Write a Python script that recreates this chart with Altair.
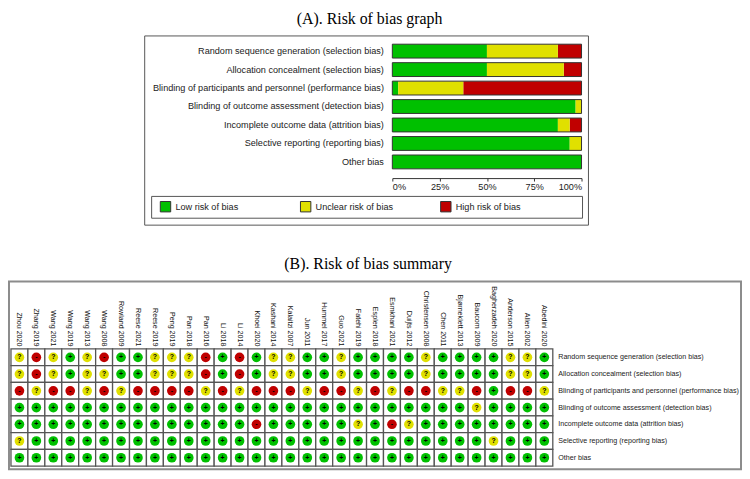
import altair as alt
import pandas as pd

studies = ["Zhou 2020", "Zhang 2019", "Wang 2021", "Wang 2019", "Wang 2013", "Wang 2008",
           "Rowland 2009", "Reese 2021", "Reese 2019", "Peng 2019", "Pan 2018", "Pan 2016",
           "Li 2018", "Li 2014", "Khoei 2020", "Kashani 2014", "Kalaitzi 2007", "Jun 2011",
           "Hummel 2017", "Guo 2021", "Fatehi 2019", "Esplen 2018", "Esmkhani 2021",
           "Duijts 2012", "Christensen 2008", "Chen 2011", "Bjørneklett 2013", "Baucom 2009",
           "Bagherzadeh 2020", "Anderson 2015", "Allen 2002", "Abedini 2020"]

domains = ["Random sequence generation (selection bias)",
           "Allocation concealment (selection bias)",
           "Blinding of participants and personnel (performance bias)",
           "Blinding of outcome assessment (detection bias)",
           "Incomplete outcome data (attrition bias)",
           "Selective reporting (reporting bias)",
           "Other bias"]

# judgements per domain, one entry per study (same order as `studies`)
random_sequence = ["?", "-", "?", "+", "?", "-", "+", "+", "?", "?", "?", "-", "+", "-", "+", "?",
                   "?", "+", "+", "?", "+", "+", "+", "+", "?", "+", "+", "+", "+", "?", "?", "+"]
allocation = ["?", "-", "?", "+", "?", "?", "+", "+", "?", "?", "?", "-", "+", "-", "+", "?",
              "?", "+", "+", "?", "+", "+", "+", "+", "?", "+", "+", "+", "+", "?", "?", "+"]
blinding_participants = ["-", "?", "-", "-", "?", "-", "?", "-", "-", "-", "-", "?", "-", "?", "-", "-",
                         "-", "?", "-", "-", "?", "-", "?", "-", "-", "?", "?", "-", "+", "-", "-", "?"]
blinding_outcome = ["+", "+", "+", "+", "+", "+", "+", "+", "+", "+", "+", "+", "+", "+", "+", "+",
                    "+", "+", "+", "+", "+", "+", "+", "+", "+", "+", "+", "?", "+", "+", "+", "+"]
incomplete_outcome = ["+", "+", "+", "+", "+", "+", "+", "+", "+", "+", "+", "+", "+", "+", "-", "+",
                      "+", "+", "+", "+", "?", "+", "-", "?", "+", "+", "+", "+", "+", "+", "+", "+"]
selective_reporting = ["?", "+", "+", "+", "+", "+", "+", "+", "+", "+", "+", "+", "+", "+", "+", "+",
                       "+", "+", "+", "+", "+", "+", "+", "+", "+", "+", "+", "+", "?", "+", "+", "+"]
other_bias = ["+"] * 32

levels = ["Low risk of bias", "Unclear risk of bias", "High risk of bias"]
symbols = ["+", "?", "-"]
colors = ["#00C000", "#E0E000", "#C00000"]

rows = []
for dom, vals in zip(domains, [random_sequence, allocation, blinding_participants, blinding_outcome,
                               incomplete_outcome, selective_reporting, other_bias]):
    for st, v in zip(studies, vals):
        k = symbols.index(v)
        rows.append({"study": st, "domain": dom, "code": v, "risk": levels[k], "rank": k})
long = pd.DataFrame(rows)
counts = long.groupby(["domain", "risk", "rank"]).size().reset_index(name="n")
counts["share"] = counts["n"] / len(studies)

one = pd.DataFrame({"k": [0]})
SANS = "Liberation Sans"
color_scale = alt.Scale(domain=levels, range=colors)

# ---------------- (A) risk of bias graph ----------------
# plot area shares its left edge with panel B; the bars occupy the right part of it
A_W = 576
BAR_L = 385
yA = alt.Y("domain:N", sort=domains, scale=alt.Scale(paddingInner=0.25, paddingOuter=0.125),
           axis=alt.Axis(orient="left", offset=-BAR_L, ticks=False, domain=False, title=None,
                         labelPadding=9, labelFontSize=9.2, labelFont=SANS, labelColor="#222",
                         labelLimit=400))
xaxA = alt.Axis(values=[0, 0.25, 0.5, 0.75, 1], format=".0%", title=None, grid=False, offset=7,
                tickSize=3, domainColor="#333", tickColor="#333", labelFontSize=9.2, labelFont=SANS,
                labelColor="#222", labelPadding=2, labelFlush=True)
xsA = alt.Scale(domain=[0, 1], nice=False, range=[BAR_L, A_W])

boxA = alt.Chart(one).mark_rect(filled=False, stroke="#555", strokeWidth=1).encode(
    x=alt.value(135), x2=alt.value(583), y=alt.value(-6), y2=alt.value(185))
legboxA = alt.Chart(one).mark_rect(filled=False, stroke="#555", strokeWidth=1).encode(
    x=alt.value(142), x2=alt.value(577), y=alt.value(156), y2=alt.value(178))

bars = alt.Chart(counts).mark_bar().encode(
    y=yA,
    x=alt.X("share:Q", stack="zero", scale=xsA, axis=xaxA),
    color=alt.Color("risk:N", scale=color_scale,
                    legend=alt.Legend(orient="none", legendX=150, legendY=160, direction="horizontal",
                                      title=None, symbolType="square", symbolSize=110,
                                      symbolStrokeColor="#333", symbolStrokeWidth=1,
                                      labelFontSize=9.2, labelFont=SANS, labelColor="#222",
                                      labelOffset=4, columnPadding=44.5, gridAlign="all",
                                      padding=0, columns=3)),
    order=alt.Order("rank:Q"),
)
outline = alt.Chart(counts).mark_bar(filled=False, stroke="#333", strokeWidth=1).encode(
    y=yA,
    x=alt.X("sum(share):Q", scale=xsA, axis=xaxA),
)

chartA = alt.layer(boxA, legboxA, bars, outline).properties(
    width=A_W, height=130.5,
    title=alt.TitleParams("(A). Risk of bias graph", font="Liberation Serif", fontSize=16,
                          fontWeight="normal", color="black", anchor="middle", frame="group",
                          dx=74, offset=-4, baseline="alphabetic"))

# ---------------- (B) risk of bias summary ----------------
xB = alt.X("study:N", sort=studies, scale=alt.Scale(paddingInner=0, paddingOuter=0),
           axis=alt.Axis(orient="top", labelAngle=90, labelAlign="right", labelBaseline="middle",
                         labelPadding=3, ticks=False, domain=False, title=None, labelFontSize=7.2,
                         labelFont=SANS, labelColor="#111", labelLimit=200, labelOverlap=False))
yB = alt.Y("domain:N", sort=domains, scale=alt.Scale(paddingInner=0, paddingOuter=0),
           axis=alt.Axis(orient="right", ticks=False, domain=False, title=None, labelPadding=5,
                         labelFontSize=7.2, labelFont=SANS, labelColor="#222", labelLimit=300))

boxB = alt.Chart(one).mark_rect(filled=False, stroke="#8c8c8c", strokeWidth=2).encode(
    x=alt.value(-2), x2=alt.value(737), y=alt.value(-68), y2=alt.value(121.5))
cells = alt.Chart(long).mark_rect(fill="white", stroke="#555", strokeWidth=1.3).encode(x=xB, y=yB)
dots = alt.Chart(long).mark_circle(size=95, opacity=1).encode(
    x=xB, y=yB, color=alt.Color("risk:N", scale=color_scale, legend=None))
marks = alt.Chart(long).mark_text(fontSize=7, font=SANS, fontWeight="bold", color="black",
                                  baseline="middle", align="center").encode(
    x=xB, y=yB, text="code:N")

chartB = alt.layer(boxB, cells, dots, marks).properties(
    width=547, height=118.3,
    title=alt.TitleParams("(B). Risk of bias summary", font="Liberation Serif", fontSize=16,
                          fontWeight="normal", color="black", anchor="middle", frame="group",
                          dx=87, offset=-4, baseline="alphabetic"))

chart = alt.vconcat(chartA, chartB, spacing=30).properties(
    padding=0).configure(font=SANS).configure_view(strokeWidth=0)

chart.save("out.html", embed_options={"renderer": "svg", "actions": False})
